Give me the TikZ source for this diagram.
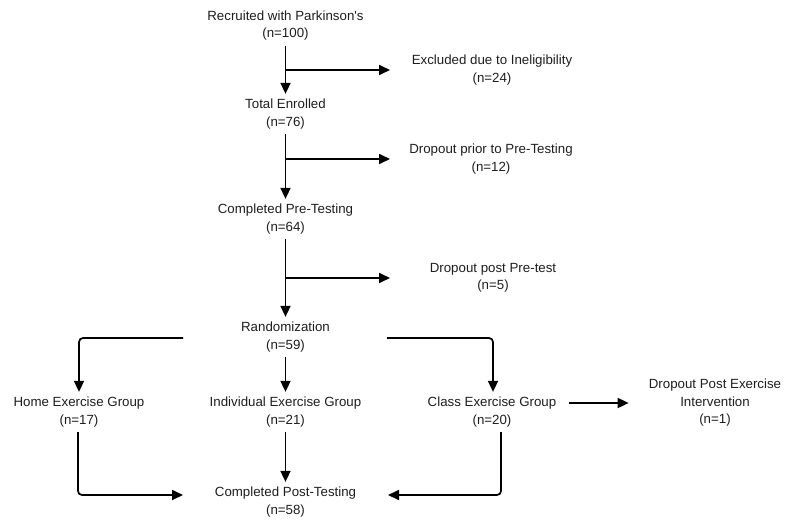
\documentclass[tikz,border=0pt]{standalone}
\usepackage{fontspec}
\setmainfont{Liberation Sans}
\usetikzlibrary{arrows.meta}
\definecolor{txt}{HTML}{1E1E1E}
\begin{document}
\begin{tikzpicture}[x=1pt,y=-1pt,
  lbl/.style={align=center,inner sep=5pt,text=txt,font=\fontsize{13.3}{17.5}\selectfont},
  arr/.style={line width=1.7pt,-{Triangle[length=11pt,width=10pt]}},
  ln/.style={line width=1.7pt}]
\useasboundingbox (0,0) rectangle (787,523);
\node[lbl] (rec) at (285.5,25.5) {Recruited with Parkinson\textquotesingle s\\(n=100)};
\node[lbl] (exc) at (492,70) {Excluded due to Ineligibility\\(n=24)};
\node[lbl] (enr) at (285.5,114) {Total Enrolled\\(n=76)};
\node[lbl] (dp1) at (491,159) {Dropout prior to Pre-Testing\\(n=12)};
\node[lbl] (cpt) at (285.5,219) {Completed Pre-Testing\\(n=64)};
\node[lbl] (dp2) at (493,278) {Dropout post Pre-test\\(n=5)};
\node[lbl] (rnd) at (285.5,337) {Randomization\\(n=59)};
\node[lbl] (home) at (79,412) {Home Exercise Group\\(n=17)};
\node[lbl] (ind) at (285.5,412) {Individual Exercise Group\\(n=21)};
\node[lbl] (cls) at (492,412) {Class Exercise Group\\(n=20)};
\node[lbl] (dp3) at (715,403) {Dropout Post Exercise\\Intervention\\(n=1)};
\node[lbl] (post) at (285.5,502) {Completed Post-Testing\\(n=58)};
\coordinate (tipx) at (390,0);
\coordinate (rl) at (183,338);
\coordinate (rr) at (387,338);
\coordinate (pl) at (183,495);
\coordinate (pr) at (388,495);
% main column
\draw[arr] (rec) -- (enr);
\draw[arr] (rec.south |- exc.west) -- (exc.west -| tipx);
\draw[arr] (enr) -- (cpt);
\draw[arr] (enr.south |- dp1.west) -- (dp1.west -| tipx);
\draw[arr] (cpt) -- (rnd);
\draw[arr] (cpt.south |- dp2.west) -- (dp2.west -| tipx);
% randomization
\draw[arr,rounded corners=4pt] (rl) -| (home.north);
\draw[arr,rounded corners=4pt] (rr) -| ([xshift=1pt]cls.north);
\draw[arr] (rnd) -- (ind);
% to post
\draw[arr] (ind) -- (post);
\draw[arr,rounded corners=4pt] ([xshift=-1pt]home.south) |- (pl);
\draw[arr,rounded corners=4pt] ([xshift=9pt]cls.south) |- (pr);
\draw[arr,shorten <=7pt,shorten >=15pt] (cls.east |- dp3.west) -- (dp3.west);
\end{tikzpicture}
\end{document}
